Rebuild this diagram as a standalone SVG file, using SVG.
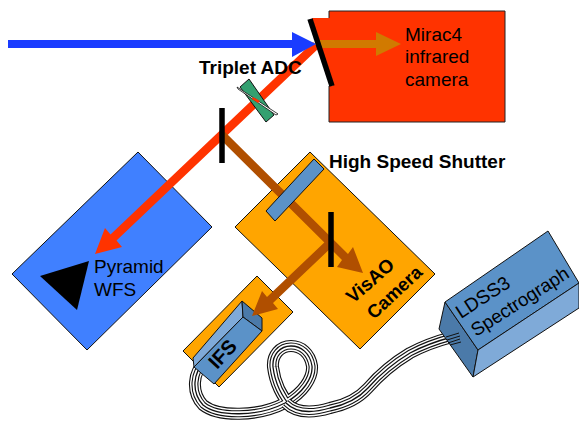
<svg xmlns="http://www.w3.org/2000/svg" width="579" height="422" viewBox="0 0 579 422">
<style>
text{font-family:"Liberation Sans",Arial,sans-serif;font-size:19px;fill:#000}
.b{font-weight:bold}
.o{stroke:#111;stroke-width:1;stroke-linejoin:round}
.c{fill:none}
.k1{stroke:#111;stroke-width:12}
.w1{stroke:#fff;stroke-width:9.8}
.k2{stroke:#111;stroke-width:7}
.w2{stroke:#fff;stroke-width:4.8}
.k3{stroke:#111;stroke-width:1.3}
.bar{stroke:#000;stroke-width:5.5;fill:none}
</style>
<defs>
<path id="c1" d="M205 362C193 372 191 392 203 405C218 417 258 417 285 403C303 393 313 378 312 366C310 353 301 346 291 346C280 346 272 355 273 367C275 383 281 396 292 408"/>
<path id="c2" d="M286 403C296 413 310 414 330 408C345 405 358 399 368 388C382 372 395 362 410 353C425 345 437 341 452 337"/>
</defs>
<g id="wfs">
<polygon class="o" fill="#4080ff" points="138,152 212,227 87,350 12,274"/>
<polygon fill="#000" points="89,261 40,276 77,310"/>
<text x="94" y="273">Pyramid</text><text x="94" y="296">WFS</text>
</g>
<g id="mirac">
<polygon fill="#ff3300" points="329,18 312,18 333,86 329,86 329,122 505,122 505,11 329,11"/>
<path d="M329 18V11H505V122H329V86" fill="none" stroke="#222" stroke-width="1"/>
<text x="405" y="41">Mirac4</text><text x="405" y="63">infrared</text><text x="405" y="86">camera</text>
</g>
<g id="visao">
<polygon class="o" fill="#ffa500" points="310,152 435,274 360,349 235,227"/>
<text class="b" transform="translate(353,304) rotate(-41)">VisAO</text>
<text class="b" style="font-size:18.5px" transform="translate(374,320) rotate(-43)">Camera</text>
</g>
<g id="ifs">
<polygon class="o" fill="#ffa500" points="257,276 293,312 219,387 183,351"/>
</g>
<g id="cable">
<use href="#c1" class="c k1"/><use href="#c1" class="c w1"/><use href="#c1" class="c k2"/><use href="#c1" class="c w2"/><use href="#c1" class="c k3"/>
<use href="#c2" class="c k1"/><use href="#c2" class="c w1"/><use href="#c2" class="c k2"/><use href="#c2" class="c w2"/><use href="#c2" class="c k3"/>
</g>
<g id="ifs-box">
<polygon class="o" fill="#7faad8" points="242,301 193,358 194,367 243,317"/>
<polygon class="o" fill="#4b7aa9" points="242,301 262,318 262,331 243,317"/>
<polygon class="o" fill="#5b92c8" points="243,317 262,331 214,384 194,367"/>
<text class="b" style="font-size:20px" transform="translate(217,370) rotate(-47)">IFS</text>
</g>
<g id="ldss">
<polygon class="o" fill="#4b7aa9" points="445,302 478,350 473,377 439,329"/>
<polygon class="o" fill="#5b92c8" points="548,231 579,283 478,350 445,302"/>
<polygon class="o" fill="#7faad8" points="478,350 579,283 579,308 473,377"/>
<path d="M446 337L459 333M447 340L460 336M448 343L460 339M450 345L461 342" stroke="#111" stroke-width="1" fill="none"/>
<text transform="translate(461,319) rotate(-33)">LDSS3</text>
<text transform="translate(476,337) rotate(-32.5)" style="font-size:18.7px">Spectrograph</text>
</g>
<g id="connectors">
<polygon fill="#ff3300" points="313,42 319,48 116.5,240.5 122,247 95,254 105,228 110.5,234.5"/>
<polygon fill="#b04f00" points="219,138 225,132 348,254 353,247 363,273 337,267 342,260"/>
<polygon fill="#b04f00" points="328,239 334,245 273,303 278,309 252,316 262,291 267,297"/>
<polygon fill="#1a3cff" points="8,40 292,40 292,32 316,44 292,57 292,48 8,48"/>
<polygon fill="#d17a00" points="320,40 376,40 376,32 401,44 376,56 376,48 320,48"/>
</g>
<g id="shutter">
<polygon class="o" fill="#5b92c8" points="314,159 324,169 275,221 266,211"/>
</g>
<g id="adc">
<polygon class="o" fill="#33a070" points="249,79 240,87 266,122 274,115"/>
<path d="M237 87L278 114L276 115L238 89Z" fill="#fff" stroke="#111" stroke-width=".8"/>
<polygon fill="#ff3300" points="253,97 260,101 258,103 252,99"/>
<text class="b" x="199" y="74">Triplet ADC</text>
</g>
<g id="mirrors">
<path class="bar" d="M310 19L332 86"/>
<path class="bar" d="M222 108V163"/>
<path class="bar" d="M331 212V267"/>
</g>
<g id="labels"><text class="b" x="329" y="168">High Speed Shutter</text></g>
</svg>
